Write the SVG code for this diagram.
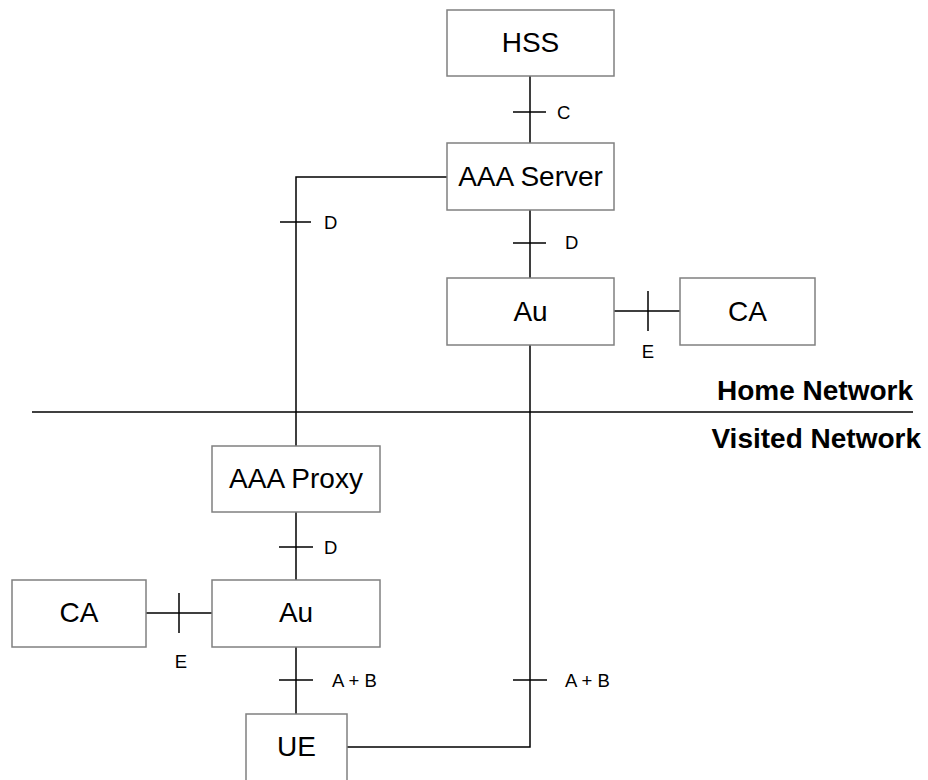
<svg xmlns="http://www.w3.org/2000/svg" width="928" height="780" viewBox="0 0 928 780">
  <style>
    .box { fill: #ffffff; stroke: #808080; stroke-width: 1.5; }
    .lbl { font-family: "Liberation Sans", Arial, sans-serif; font-size: 28px; fill: #000; text-anchor: middle; }
    .if { font-family: "Liberation Sans", Arial, sans-serif; font-size: 18.5px; fill: #000; }
    .net { font-family: "Liberation Sans", Arial, sans-serif; font-size: 28px; font-weight: bold; fill: #000; text-anchor: end; }
    .wire { fill: none; stroke: #000; stroke-width: 1.5; }
  </style>
  <rect width="928" height="780" fill="#ffffff"/>

  <!-- connectors and interface ticks -->
  <g id="connectors">
    <!-- HSS - AAA Server (C) -->
    <path class="wire" d="M530 76 V143 M513 112 H546"/>
    <text class="if" x="557" y="119">C</text>
    <!-- AAA Server - AAA Proxy (D) -->
    <path class="wire" d="M447 177 H296 V446 M280 222 H311"/>
    <text class="if" x="324" y="229">D</text>
    <!-- AAA Server - Au home (D) -->
    <path class="wire" d="M530 210 V278 M513 243 H546"/>
    <text class="if" x="565" y="249">D</text>
    <!-- Au home - CA home (E) -->
    <path class="wire" d="M614 311 H680 M648 291 V331"/>
    <text class="if" x="648" y="358" text-anchor="middle">E</text>
    <!-- Au home - UE (A + B) -->
    <path class="wire" d="M530 345 V747 H347 M513 680 H547"/>
    <text class="if" x="565" y="687">A + B</text>
    <!-- AAA Proxy - Au visited (D) -->
    <path class="wire" d="M296 512 V580 M279 547 H313"/>
    <text class="if" x="324" y="554">D</text>
    <!-- CA visited - Au visited (E) -->
    <path class="wire" d="M146 613 H212 M179 593 V633"/>
    <text class="if" x="181" y="668" text-anchor="middle">E</text>
    <!-- Au visited - UE (A + B) -->
    <path class="wire" d="M296 647 V714 M279 680 H313"/>
    <text class="if" x="332" y="687">A + B</text>
  </g>

  <!-- boundary between home and visited networks -->
  <g id="boundary">
    <line x1="32" y1="412" x2="913" y2="412" stroke="#000" stroke-width="1.5"/>
    <text class="net" x="913" y="400">Home Network</text>
    <text class="net" x="921" y="448">Visited Network</text>
  </g>

  <g id="hss">
    <rect class="box" x="447" y="10" width="167" height="66"/>
    <text class="lbl" x="530.5" y="52">HSS</text>
  </g>
  <g id="aaa-server">
    <rect class="box" x="447" y="143" width="167" height="67"/>
    <text class="lbl" x="530.5" y="186">AAA Server</text>
  </g>
  <g id="au-home">
    <rect class="box" x="447" y="278" width="167" height="67"/>
    <text class="lbl" x="530.5" y="321">Au</text>
  </g>
  <g id="ca-home">
    <rect class="box" x="680" y="278" width="135" height="67"/>
    <text class="lbl" x="747.5" y="321">CA</text>
  </g>
  <g id="aaa-proxy">
    <rect class="box" x="212" y="446" width="168" height="66"/>
    <text class="lbl" x="296" y="488">AAA Proxy</text>
  </g>
  <g id="au-visited">
    <rect class="box" x="212" y="580" width="168" height="67"/>
    <text class="lbl" x="296" y="622">Au</text>
  </g>
  <g id="ca-visited">
    <rect class="box" x="12" y="580" width="134" height="67"/>
    <text class="lbl" x="79" y="622">CA</text>
  </g>
  <g id="ue">
    <rect class="box" x="246" y="714" width="101" height="80"/>
    <text class="lbl" x="296.5" y="756">UE</text>
  </g>
</svg>
